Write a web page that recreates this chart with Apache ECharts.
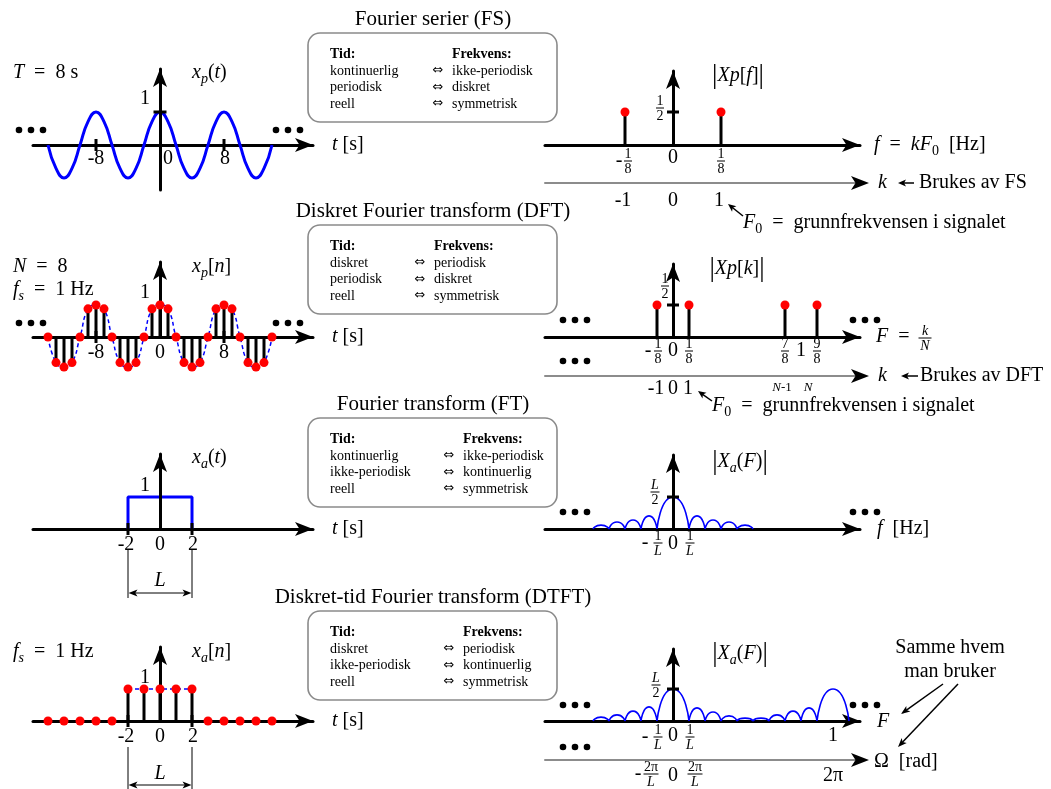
<!DOCTYPE html>
<html>
<head>
<meta charset="utf-8">
<title>Fourier oversikt</title>
<script src="https://cdn.jsdelivr.net/npm/echarts@6/dist/echarts.min.js"></script>
<style>
html,body{margin:0;padding:0;background:#ffffff;}
#chart{width:1051px;height:789px;}
</style>
</head>
<body>
<div id="chart"></div>
<script>
// ================= DATA =================
// Row 1 – Fourier serier (FS): periodic signal x_p(t), T = 8 s
const fsTime   = [-14,-13,-12,-11,-10,-9,-8,-7,-6,-5,-4,-3,-2,-1,0,1,2,3,4,5,6,7,8,9,10,11,12,13,14];
const fsSignal = [0,-0.71,-1,-0.71,0,0.71,1,0.71,0,-0.71,-1,-0.71,0,0.71,1,0.71,0,-0.71,-1,-0.71,0,0.71,1,0.71,0,-0.71,-1,-0.71,0];
const fsTimeTicks = [-8, 8];
const fsTimeLabelPos = [-8, 0, 8];
const fsTimeLabels = ['-8', '0', '8'];
const fsFreq = [-0.125, 0.125];
const fsMag  = [0.5, 0.5];
const fsKPos = [-0.125, 0, 0.125];
const fsKLabels = ['-1', '0', '1'];

// Row 2 – Diskret Fourier transform (DFT): x_p[n], N = 8
const dftTime   = [-14,-13,-12,-11,-10,-9,-8,-7,-6,-5,-4,-3,-2,-1,0,1,2,3,4,5,6,7,8,9,10,11,12,13,14];
const dftSignal = [0,-0.8,-0.94,-0.8,0,0.88,1,0.88,0,-0.8,-0.94,-0.8,0,0.88,1,0.88,0,-0.8,-0.94,-0.8,0,0.88,1,0.88,0,-0.8,-0.94,-0.8,0];
const dftTimeTicks = [-8, 8];
const dftTimeLabelPos = [-8, 0, 8];
const dftTimeLabels = ['-8', '0', '8'];
const dftFreq = [-0.125, 0.125, 0.875, 1.125];
const dftMag  = [0.5, 0.5, 0.5, 0.5];
const dftKPos = [-0.125, 0, 0.125];
const dftKLabels = ['-1', '0', '1'];
const dftNPos = [0.875, 1.125];

// Row 3 – Fourier transform (FT): rectangular pulse x_a(t), |X_a(F)| (x in units of 1/L, y in units of L/2)
const ftRectT = [-2, -2, 2, 2];
const ftRectX = [0, 1, 1, 0];
const ftTimeTicks = [-2, 2];
const ftTimeLabelPos = [-2, 0, 2];
const ftTimeLabels = ['-2', '0', '2'];
const ftLobeStart = [-5, -4, -3, -2, -1, 1, 2, 3, 4];
const ftLobePeakF = [-4.5, -3.5, -2.5, -1.5, 0, 1.5, 2.5, 3.5, 4.5];
const ftLobeEnd   = [-4, -3, -2, -1, 1, 2, 3, 4, 5];
const ftLobePeak  = [0.12, 0.22, 0.28, 0.41, 1, 0.41, 0.28, 0.22, 0.12];

// Row 4 – Diskret-tid Fourier transform (DTFT): x_a[n], |X_a(F)| (x in units of 1/L, F = 1 at 10)
const dtftTime   = [-7,-6,-5,-4,-3,-2,-1,0,1,2,3,4,5,6,7];
const dtftSignal = [0,0,0,0,0,1,1,1,1,1,0,0,0,0,0];
const dtftPlateauT = [-2, 2];
const dtftPlateauX = [1, 1];
const dtftTimeTicks = [-2, 2];
const dtftTimeLabelPos = [-2, 0, 2];
const dtftTimeLabels = ['-2', '0', '2'];
const dtftLobeStart = [-5, -4, -3, -2, -1, 1, 2, 3, 4, 5, 6, 7, 8, 9];
const dtftLobePeakF = [-4.5, -3.5, -2.5, -1.5, 0, 1.5, 2.5, 3.5, 4.5, 5.5, 6.5, 7.5, 8.5, 10];
const dtftLobeEnd   = [-4, -3, -2, -1, 1, 2, 3, 4, 5, 6, 7, 8, 9, 11];
const dtftLobePeak  = [0.12, 0.19, 0.31, 0.44, 1, 0.41, 0.28, 0.16, 0.09, 0.09, 0.19, 0.31, 0.41, 1];

// Middle boxes
const boxTitles = ['Fourier serier (FS)', 'Diskret Fourier transform (DFT)', 'Fourier transform (FT)', 'Diskret-tid Fourier transform (DTFT)'];
const boxTid  = [['kontinuerlig','periodisk','reell'], ['diskret','periodisk','reell'], ['kontinuerlig','ikke-periodisk','reell'], ['diskret','ikke-periodisk','reell']];
const boxFrek = [['ikke-periodisk','diskret','symmetrisk'], ['periodisk','diskret','symmetrisk'], ['ikke-periodisk','kontinuerlig','symmetrisk'], ['periodisk','kontinuerlig','symmetrisk']];

// ================= LAYOUT =================
const FONT = "'Liberation Serif','DejaVu Serif',serif";
const BLUE = '#0000ff', RED = '#ff0000';
// each panel: pixel extent of the axis lines, pixel of origin, pixels per unit
const panels = [
  {left:33,  right:313, top:69,  bottom:190, x0:160, y0:145, kx:8,   ky:33},
  {left:545, right:860, top:71,  bottom:145, x0:673, y0:145, kx:384, ky:66},
  {left:33,  right:313, top:262, bottom:337, x0:160, y0:337, kx:8,   ky:32},
  {left:545, right:860, top:264, bottom:337, x0:673, y0:337, kx:128, ky:64},
  {left:33,  right:313, top:454, bottom:529, x0:160, y0:529, kx:16,  ky:32},
  {left:545, right:860, top:455, bottom:529, x0:673, y0:529, kx:16,  ky:32},
  {left:33,  right:313, top:647, bottom:721, x0:160, y0:721, kx:16,  ky:32},
  {left:545, right:860, top:649, bottom:721, x0:673, y0:721, kx:16,  ky:32}
];
const secondAxes = [{g:1, offset:38}, {g:3, offset:39}, {g:7, offset:39}];

const grids = [], xAxes = [], yAxes = [];
const hidden = {axisTick:{show:false}, axisLabel:{show:false}, splitLine:{show:false}};
panels.forEach(function (p, g) {
  grids.push({left:p.left, top:p.top, width:p.right - p.left, height:p.bottom - p.top, containLabel:false, outerBoundsMode:'none'});
  xAxes.push(Object.assign({type:'value', gridIndex:g, min:(p.left - p.x0) / p.kx, max:(p.right - p.x0) / p.kx, z:0,
    axisLine:{show:true, onZero:true, symbol:['none','arrow'], symbolSize:[10.5,18], lineStyle:{color:'#000', width:3}}}, hidden));
  yAxes.push(Object.assign({type:'value', gridIndex:g, min:-(p.bottom - p.y0) / p.ky, max:(p.y0 - p.top) / p.ky, z:3,
    axisLine:{show:true, onZero:true, symbol:['none','arrow'], symbolSize:[10.5,18], lineStyle:{color:'#000', width:3}}}, hidden));
});
secondAxes.forEach(function (s) {
  const p = panels[s.g];
  xAxes.push(Object.assign({type:'value', gridIndex:s.g, position:'bottom', offset:s.offset, min:(p.left - p.x0) / p.kx, max:(p.right - p.x0) / p.kx,
    axisLine:{show:true, onZero:false, lineStyle:{color:'#8c8c8c', width:2}}}, hidden));
});

function xy(xs, ys) { return xs.map(function (x, i) { return [x, ys[i]]; }); }
function lobes(st, pk, en, h) {
  const d = [];
  st.forEach(function (s, i) { d.push([s, 0], [pk[i], h[i]], [en[i], 0]); if (i < st.length - 1) d.push(['-', '-']); });
  return d;
}
function lineS(g, data, extra) {
  return Object.assign({type:'line', xAxisIndex:g, yAxisIndex:g, data:data, showSymbol:false, symbol:'none', clip:false, silent:true, z:2,
    lineStyle:{color:BLUE, width:3}}, extra || {});
}
function stemS(g, data) { return {type:'bar', xAxisIndex:g, yAxisIndex:g, data:data, barWidth:3, clip:false, silent:true, z:4, itemStyle:{color:'#000', opacity:1}}; }
function dotS(g, data) { return {type:'scatter', xAxisIndex:g, yAxisIndex:g, data:data, symbol:'circle', symbolSize:9, clip:false, silent:true, z:5, itemStyle:{color:RED, opacity:1}}; }
function tickS(g, data, size) { return {type:'scatter', xAxisIndex:g, yAxisIndex:g, data:data, symbol:'rect', symbolSize:size, clip:false, silent:true, z:6, itemStyle:{color:'#000', opacity:1}}; }
const xTick = [3, 12], yTick = [13, 3];

const series = [
  // Row 1
  lineS(0, xy(fsTime, fsSignal), {smooth:true}),
  tickS(0, fsTimeTicks.map(function (t) { return [t, 0]; }), xTick),
  tickS(0, [[0, 1]], yTick),
  stemS(1, xy(fsFreq, fsMag)),
  dotS(1, xy(fsFreq, fsMag)),
  tickS(1, [[0, 0.5]], [12, 3]),
  // Row 2
  lineS(2, xy(dftTime, dftSignal), {smooth:true, lineStyle:{color:BLUE, width:1.5, type:[4, 3]}}),
  stemS(2, xy(dftTime, dftSignal)),
  dotS(2, xy(dftTime, dftSignal)),
  tickS(2, dftTimeTicks.map(function (t) { return [t, 0]; }), xTick),
  stemS(3, xy(dftFreq, dftMag)),
  dotS(3, xy(dftFreq, dftMag)),
  tickS(3, [[0, 0.5]], [12, 3]),
  // Row 3
  lineS(4, xy(ftRectT, ftRectX)),
  tickS(4, ftTimeTicks.map(function (t) { return [t, 0]; }), xTick),
  lineS(5, lobes(ftLobeStart, ftLobePeakF, ftLobeEnd, ftLobePeak), {smooth:0.8, lineStyle:{color:BLUE, width:1.6}}),
  tickS(5, [[0, 1]], [12, 3]),
  // Row 4
  lineS(6, xy(dtftPlateauT, dtftPlateauX), {lineStyle:{color:BLUE, width:1.5, type:[4, 3]}}),
  stemS(6, xy(dtftTime, dtftSignal)),
  dotS(6, xy(dtftTime, dtftSignal)),
  tickS(6, dtftTimeTicks.map(function (t) { return [t, 0]; }), xTick),
  lineS(7, lobes(dtftLobeStart, dtftLobePeakF, dtftLobeEnd, dtftLobePeak), {smooth:0.8, lineStyle:{color:BLUE, width:1.6}}),
  tickS(7, [[0, 1]], [12, 3])
];

const chart = echarts.init(document.getElementById('chart'), null, {renderer:'canvas', width:1051, height:789});
chart.setOption({animation:false, backgroundColor:'#ffffff', grid:grids, xAxis:xAxes, yAxis:yAxes, series:series});

// ================= ANNOTATIONS =================
function P(g, x, y) { return chart.convertToPixel({gridIndex:g}, [x, y]); }
function richFor(size) {
  const lh = Math.round(size * 1.3), ss = Math.round(size * 0.7);
  return {
    r:{fontSize:size, fontFamily:FONT, fill:'#000', lineHeight:lh},
    i:{fontSize:size, fontFamily:FONT, fontStyle:'italic', fill:'#000', lineHeight:lh},
    b:{fontSize:size, fontFamily:FONT, fontWeight:'bold', fill:'#000', lineHeight:lh},
    B:{fontSize:Math.round(size * 1.35), fontFamily:FONT, fill:'#000', lineHeight:lh},
    a:{fontSize:size, fontFamily:"'DejaVu Sans','DejaVu Serif',sans-serif", fill:'#000', lineHeight:lh},
    s:{fontSize:ss, fontFamily:FONT, fontStyle:'italic', fill:'#000', lineHeight:ss, verticalAlign:'bottom'},
    s0:{fontSize:ss, fontFamily:FONT, fill:'#000', lineHeight:ss, verticalAlign:'bottom'}
  };
}
const G = [];
function txt(x, y, text, size, align) {
  size = size || 20;
  G.push({type:'text', x:x, y:y, z:100, silent:true,
    style:{text:text, rich:richFor(size), fontSize:size, fontFamily:FONT, fill:'#000',
      align:align || 'left', verticalAlign:'middle', textAlign:align || 'left', textVerticalAlign:'middle'}});
}
function frac(cx, cy, num, den, w, size) {
  size = size || 14;
  txt(cx, cy - size * 0.5, num, size, 'center');
  G.push({type:'line', z:100, silent:true, shape:{x1:cx - w / 2, y1:cy, x2:cx + w / 2, y2:cy}, style:{stroke:'#000', lineWidth:1}});
  txt(cx, cy + size * 0.58, den, size, 'center');
}
function dots(x, y) {
  for (let k = 0; k < 3; k++) G.push({type:'circle', z:100, silent:true, shape:{cx:x + k * 12, cy:y, r:3.3}, style:{fill:'#000'}});
}
function head(x2, y2, ux, uy, len, hw) {
  const bx = x2 - ux * len, by = y2 - uy * len;
  G.push({type:'polygon', z:100, silent:true, shape:{points:[[x2, y2], [bx - uy * hw, by + ux * hw], [x2 - ux * len * 0.75, y2 - uy * len * 0.75], [bx + uy * hw, by - ux * hw]]}, style:{fill:'#000'}});
}
function arrow(x1, y1, x2, y2, lw, len, hw) {
  const dx = x2 - x1, dy = y2 - y1, L = Math.hypot(dx, dy), ux = dx / L, uy = dy / L;
  G.push({type:'line', z:100, silent:true, shape:{x1:x1, y1:y1, x2:x2 - ux * len * 0.6, y2:y2 - uy * len * 0.6}, style:{stroke:'#000', lineWidth:lw}});
  head(x2, y2, ux, uy, len, hw);
}
function dimension(g, a, b, yTop, yBot, yArr, yLab) {
  const xa = P(g, a, 0)[0], xb = P(g, b, 0)[0];
  G.push({type:'line', z:100, silent:true, shape:{x1:xa, y1:yTop, x2:xa, y2:yBot}, style:{stroke:'#000', lineWidth:1}});
  G.push({type:'line', z:100, silent:true, shape:{x1:xb, y1:yTop, x2:xb, y2:yBot}, style:{stroke:'#000', lineWidth:1}});
  const xm = (xa + xb) / 2;
  arrow(xm, yArr, xa + 0.5, yArr, 1, 9, 3.5);
  arrow(xm, yArr, xb - 0.5, yArr, 1, 9, 3.5);
  txt(xm, yLab, '{i|L}', 20, 'center');
}
function labelsAt(g, pos, labels, y, nudge) {
  pos.forEach(function (v, i) { txt(P(g, v, 0)[0] + (nudge ? nudge[i] : 0), y, '{r|' + labels[i] + '}', 20, 'center'); });
}

// Middle boxes
const boxTop = [33, 225, 418, 611], frekX = [452, 434, 463, 463];
boxTitles.forEach(function (t, b) {
  const top = boxTop[b];
  txt(433, top - 14, '{r|' + t + '}', 21, 'center');
  G.push({type:'rect', z:90, silent:true, shape:{x:308, y:top, width:249, height:89, r:12}, style:{fill:'none', stroke:'#8a8a8a', lineWidth:1.6}});
  txt(330, top + 21, '{b|Tid:}', 14);
  txt(frekX[b], top + 21, '{b|Frekvens:}', 14);
  for (let r = 0; r < 3; r++) {
    const y = top + 38 + r * 16.5;
    txt(330, y, '{r|' + boxTid[b][r] + '}', 14);
    txt(frekX[b] - 14, y, '{a|⇔}', 13, 'center');
    txt(frekX[b], y, '{r|' + boxFrek[b][r] + '}', 14);
  }
});

// Row 1 left
txt(13, 73, '{i|T}{r|  =  8 s}');
txt(192, 73, '{i|x}{s|p}{r|(}{i|t}{r|)}');
txt(150, 99, '{r|1}', 20, 'right');
labelsAt(0, fsTimeLabelPos, fsTimeLabels, 159, [0, 8, 1]);
txt(332, 145, '{i|t}{r| [s]}');
dots(19, 130); dots(276, 130);
// Row 1 right
txt(738, 76, '{B||}{i|Xp}{r|[}{i|f}{r|]}{B||}', 20, 'center');
frac(660, 108, '{r|1}', '{r|2}', 8);
txt(P(1, fsFreq[0], 0)[0] - 6, 161, '{r|-}', 20, 'center');
frac(P(1, fsFreq[0], 0)[0] + 3, 161, '{r|1}', '{r|8}', 8);
txt(673, 158, '{r|0}', 20, 'center');
frac(P(1, fsFreq[1], 0)[0], 161, '{r|1}', '{r|8}', 8);
txt(874, 145, '{i|f}{r|  =  }{i|kF}{s0|0}{r|  [Hz]}');
head(869, 183, 1, 0, 18, 7);
txt(878, 183, '{i|k}');
arrow(914, 183, 898, 183, 1.5, 8, 3.5);
txt(919, 183, '{r|Brukes av FS}');
labelsAt(1, fsKPos, fsKLabels, 201, [-2, 0, -2]);
txt(743, 223, '{i|F}{s0|0}{r|  =  grunnfrekvensen i signalet}');
arrow(743, 216, 728, 204, 1.5, 8, 3.5);

// Row 2 left
txt(13, 267, '{i|N}{r|  =  8}');
txt(13, 290, '{i|f}{s|s}{r|  =  1 Hz}');
txt(192, 267, '{i|x}{s|p}{r|[}{i|n}{r|]}');
txt(150, 293, '{r|1}', 20, 'right');
labelsAt(2, dftTimeLabelPos, dftTimeLabels, 353, [0, 0, 0]);
txt(332, 337, '{i|t}{r| [s]}');
dots(19, 323); dots(276, 323);
// Row 2 right
txt(737, 269, '{B||}{i|Xp}{r|[}{i|k}{r|]}{B||}', 20, 'center');
frac(665, 286, '{r|1}', '{r|2}', 8);
dots(563, 320); dots(853, 320); dots(563, 361);
txt(P(3, dftFreq[0], 0)[0] - 9, 351, '{r|-}', 20, 'center');
frac(P(3, dftFreq[0], 0)[0] + 1, 351, '{r|1}', '{r|8}', 8);
txt(673, 351, '{r|0}', 20, 'center');
frac(P(3, dftFreq[1], 0)[0], 351, '{r|1}', '{r|8}', 8);
frac(P(3, dftFreq[2], 0)[0], 351, '{r|7}', '{r|8}', 8);
txt(P(3, 1, 0)[0], 351, '{r|1}', 20, 'center');
frac(P(3, dftFreq[3], 0)[0], 351, '{r|9}', '{r|8}', 8);
txt(876, 337, '{i|F}{r|  =}');
frac(925, 338, '{i|k}', '{i|N}', 13);
head(869, 376, 1, 0, 18, 7);
txt(878, 376, '{i|k}');
arrow(918, 376, 901, 376, 1.5, 8, 3.5);
txt(920, 376, '{r|Brukes av DFT}');
labelsAt(3, dftKPos, dftKLabels, 389, [-1, 0, -1]);
txt(P(3, dftNPos[0], 0)[0] - 3, 388, '{i|N}{r|-1}', 13, 'center');
txt(P(3, dftNPos[1], 0)[0] - 9, 388, '{i|N}', 13, 'center');
txt(712, 406, '{i|F}{s0|0}{r|  =  grunnfrekvensen i signalet}');
arrow(712, 401, 698, 391, 1.5, 8, 3.5);

// Row 3 left
txt(192, 458, '{i|x}{s|a}{r|(}{i|t}{r|)}');
txt(150, 486, '{r|1}', 20, 'right');
labelsAt(4, ftTimeLabelPos, ftTimeLabels, 545, [-2, 0, 1]);
txt(332, 529, '{i|t}{r| [s]}');
dimension(4, ftRectT[0], ftRectT[3], 549, 598, 593, 581);
// Row 3 right
txt(740, 462, '{B||}{i|X}{s|a}{r|(}{i|F}{r|)}{B||}', 20, 'center');
frac(655, 492, '{i|L}', '{r|2}', 9);
dots(563, 512); dots(853, 512);
txt(P(5, -1, 0)[0] - 12, 543, '{r|-}', 20, 'center');
frac(P(5, -1, 0)[0] + 1, 543, '{r|1}', '{i|L}', 9);
txt(673, 544, '{r|0}', 20, 'center');
frac(P(5, 1, 0)[0] + 1, 543, '{r|1}', '{i|L}', 9);
txt(877, 529, '{i|f}{r|  [Hz]}');

// Row 4 left
txt(13, 652, '{i|f}{s|s}{r|  =  1 Hz}');
txt(192, 652, '{i|x}{s|a}{r|[}{i|n}{r|]}');
txt(150, 678, '{r|1}', 20, 'right');
labelsAt(6, dtftTimeLabelPos, dtftTimeLabels, 737, [-2, 0, 1]);
txt(332, 721, '{i|t}{r| [s]}');
dimension(6, dtftPlateauT[0], dtftPlateauT[1], 747, 789, 785, 774);
// Row 4 right
txt(740, 654, '{B||}{i|X}{s|a}{r|(}{i|F}{r|)}{B||}', 20, 'center');
frac(656, 685, '{i|L}', '{r|2}', 9);
dots(563, 705); dots(853, 705); dots(563, 747);
txt(P(7, -1, 0)[0] - 12, 737, '{r|-}', 20, 'center');
frac(P(7, -1, 0)[0] + 1, 737, '{r|1}', '{i|L}', 9);
txt(673, 736, '{r|0}', 20, 'center');
frac(P(7, 1, 0)[0] + 1, 737, '{r|1}', '{i|L}', 9);
txt(P(7, 10, 0)[0], 736, '{r|1}', 20, 'center');
txt(877, 722, '{i|F}');
head(869, 760, 1, 0, 18, 7);
txt(874, 762, '{r|Ω  [rad]}');
txt(P(7, -1, 0)[0] - 19, 774, '{r|-}', 20, 'center');
frac(P(7, -1, 0)[0] - 6, 774, '{r|2π}', '{i|L}', 15);
txt(673, 776, '{r|0}', 20, 'center');
frac(P(7, 1, 0)[0] + 6, 774, '{r|2π}', '{i|L}', 15);
txt(P(7, 10, 0)[0], 776, '{r|2π}', 20, 'center');
txt(950, 648, '{r|Samme hvem}', 20, 'center');
txt(950, 672, '{r|man bruker}', 20, 'center');
arrow(943, 684, 901, 714, 1.5, 9, 3.5);
arrow(958, 684, 898, 747, 1.5, 9, 3.5);

chart.setOption({graphic:{elements:G}});
</script>
</body>
</html>
